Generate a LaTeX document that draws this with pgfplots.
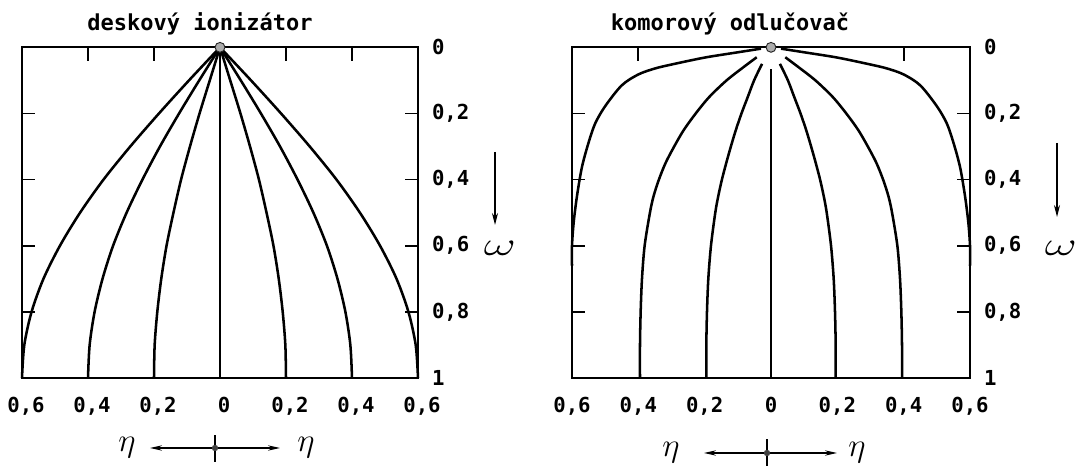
\documentclass[border=0pt]{standalone}
\usepackage{pgfplots}
\pgfplotsset{compat=1.18}
\usetikzlibrary{arrows.meta}
\usepackage{fontspec}
\setmainfont{DejaVu Sans Mono}
\tikzset{toptick/.style={line width=1.3pt}}
\begin{document}
\begin{tikzpicture}
\useasboundingbox (0pt,0pt) rectangle (812.25pt,352.5pt);
\pgfplotsset{
  panel/.style={
    anchor=south west,
    scale only axis,
    height=248pt,
    xmin=-0.6, xmax=0.6, ymin=0, ymax=1,
    y dir=reverse,
    clip=false,
    axis line style={line width=1.3pt},
    xtick={-0.6,-0.4,-0.2,0,0.2,0.4,0.6},
    xticklabels={{0,6},{0,4},{0,2},0,{0,2},{0,4},{0,6}},
    xtick pos=bottom,
    major x tick style={draw=none},
    xticklabel style={font=\bfseries\fontsize{15.5}{16}\selectfont, yshift=-11pt},
    ytick={0,0.2,0.4,0.6,0.8,1},
    yticklabels={0,{0,2},{0,4},{0,6},{0,8},1},
    ytick pos=both, yticklabel pos=right,
    tick align=inside,
    major tick length=9.5pt,
    major y tick style={line width=1.3pt, black},
    yticklabel style={font=\bfseries\fontsize{15.5}{16}\selectfont, xshift=7pt},
  },
  curve/.style={black, line width=1.9pt, smooth, no markers},
  topdot/.style={only marks, mark=*, mark size=3.7pt,
    mark options={fill=gray!65, draw=gray!30!black, line width=0.7pt}},
}

% ---------- deskový ionizátor ----------
\begin{axis}[panel, width=297pt, at={(16.5pt,69pt)},
  xticklabel style={xshift=3pt}]
\draw[toptick] (axis cs:-0.4,0) -- (axis cs:-0.4,0.04);
\draw[toptick] (axis cs:-0.2,0) -- (axis cs:-0.2,0.04);
\draw[toptick] (axis cs:0.2,0) -- (axis cs:0.2,0.04);
\draw[toptick] (axis cs:0.4,0) -- (axis cs:0.4,0.04);
\addplot[curve] coordinates {(0,0)(-0.094,0.1)(-0.185,0.2)(-0.272,0.3)(-0.353,0.4)(-0.424,0.5)(-0.485,0.6)(-0.535,0.7)(-0.571,0.8)(-0.593,0.9)(-0.6,1)};
\addplot[curve] coordinates {(0,0)(-0.063,0.1)(-0.124,0.2)(-0.182,0.3)(-0.235,0.4)(-0.283,0.5)(-0.324,0.6)(-0.356,0.7)(-0.380,0.8)(-0.395,0.9)(-0.4,1)};
\addplot[curve] coordinates {(0,0)(-0.031,0.1)(-0.062,0.2)(-0.091,0.3)(-0.118,0.4)(-0.141,0.5)(-0.162,0.6)(-0.178,0.7)(-0.190,0.8)(-0.198,0.9)(-0.2,1)};
\addplot[curve] coordinates {(0,0)(0,1)};
\addplot[curve] coordinates {(0,0)(0.031,0.1)(0.062,0.2)(0.091,0.3)(0.118,0.4)(0.141,0.5)(0.162,0.6)(0.178,0.7)(0.190,0.8)(0.198,0.9)(0.2,1)};
\addplot[curve] coordinates {(0,0)(0.063,0.1)(0.124,0.2)(0.182,0.3)(0.235,0.4)(0.283,0.5)(0.324,0.6)(0.356,0.7)(0.380,0.8)(0.395,0.9)(0.4,1)};
\addplot[curve] coordinates {(0,0)(0.094,0.1)(0.185,0.2)(0.272,0.3)(0.353,0.4)(0.424,0.5)(0.485,0.6)(0.535,0.7)(0.571,0.8)(0.593,0.9)(0.6,1)};
\addplot[topdot] coordinates {(0,0)};
\end{axis}

% ---------- komorový odlučovač ----------
\begin{axis}[panel, width=298.5pt, at={(429pt,69pt)}]
\draw[toptick] (axis cs:-0.4,0) -- (axis cs:-0.4,0.04);
\draw[toptick] (axis cs:0.4,0) -- (axis cs:0.4,0.04);
% outer lines
\addplot[curve] coordinates {(-0.03,0.004)(-0.1,0.015)(-0.2,0.031)(-0.3,0.052)(-0.35,0.064)(-0.4,0.082)(-0.45,0.115)(-0.5,0.178)(-0.53,0.23)(-0.55,0.288)(-0.57,0.362)(-0.585,0.45)(-0.595,0.53)(-0.6,0.6)(-0.6,0.66)};
\addplot[curve] coordinates {(0.03,0.004)(0.1,0.015)(0.2,0.031)(0.3,0.052)(0.35,0.064)(0.4,0.082)(0.45,0.115)(0.5,0.178)(0.53,0.23)(0.55,0.288)(0.57,0.362)(0.585,0.45)(0.595,0.53)(0.6,0.6)(0.6,0.66)};
% lines ending at 0,4
\addplot[curve] coordinates {(-0.043,0.03)(-0.083,0.06)(-0.134,0.1)(-0.186,0.15)(-0.227,0.2)(-0.263,0.25)(-0.292,0.3)(-0.318,0.35)(-0.338,0.4)(-0.354,0.45)(-0.365,0.5)(-0.381,0.6)(-0.389,0.7)(-0.393,0.8)(-0.395,0.9)(-0.395,1)};
\addplot[curve] coordinates {(0.043,0.03)(0.083,0.06)(0.134,0.1)(0.186,0.15)(0.227,0.2)(0.263,0.25)(0.292,0.3)(0.318,0.35)(0.338,0.4)(0.354,0.45)(0.365,0.5)(0.381,0.6)(0.389,0.7)(0.393,0.8)(0.395,0.9)(0.395,1)};
% lines ending at 0,2
\addplot[curve] coordinates {(-0.027,0.05)(-0.051,0.1)(-0.07,0.15)(-0.089,0.2)(-0.106,0.25)(-0.121,0.3)(-0.135,0.35)(-0.148,0.4)(-0.159,0.45)(-0.168,0.5)(-0.181,0.6)(-0.189,0.7)(-0.193,0.8)(-0.195,0.9)(-0.195,1)};
\addplot[curve] coordinates {(0.027,0.05)(0.051,0.1)(0.07,0.15)(0.089,0.2)(0.106,0.25)(0.121,0.3)(0.135,0.35)(0.148,0.4)(0.159,0.45)(0.168,0.5)(0.181,0.6)(0.189,0.7)(0.193,0.8)(0.195,0.9)(0.195,1)};
% centre line
\addplot[curve] coordinates {(0,0.067)(0,1)};
\addplot[topdot] coordinates {(0,0)};
\end{axis}

\begin{scope}[x=0.75pt,y=0.75pt]
% titles
\node[font=\bfseries\fontsize{16.5}{17}\selectfont] at (200,446) {deskový ionizátor};
\node[font=\bfseries\fontsize{16.5}{17}\selectfont] at (730,446) {komorový odlučovač};

% omega direction arrows
\draw[line width=1pt, -{Stealth[length=9pt,width=4.5pt]}] (495,318) -- (495,245);
\node[font=\fontsize{26}{26}\selectfont, xscale=1.5] at (500,222) {$\omega$};
\draw[line width=1pt, -{Stealth[length=9pt,width=4.5pt]}] (1057,327) -- (1057,253);
\node[font=\fontsize{26}{26}\selectfont, xscale=1.5] at (1061,222) {$\omega$};

% eta direction arrows
\draw[line width=0.9pt, -{Stealth[length=9pt,width=4pt]}] (215,22) -- (150,22);
\draw[line width=0.9pt, -{Stealth[length=9pt,width=4pt]}] (215,22) -- (280,22);
\draw[line width=0.9pt] (215,8) -- (215,35);
\fill[gray!50!black] (215,22) circle (3.2);
\node[font=\fontsize{28}{28}\selectfont] at (127,22) {$\eta$};
\node[font=\fontsize{28}{28}\selectfont] at (306,22) {$\eta$};

\draw[line width=0.9pt, -{Stealth[length=9pt,width=4pt]}] (767,17) -- (704,17);
\draw[line width=0.9pt, -{Stealth[length=9pt,width=4pt]}] (767,17) -- (837,17);
\draw[line width=0.9pt] (767,4) -- (767,31);
\fill[gray!50!black] (767,17) circle (3.2);
\node[font=\fontsize{28}{28}\selectfont] at (671,17) {$\eta$};
\node[font=\fontsize{28}{28}\selectfont] at (857,17) {$\eta$};
\end{scope}
\end{tikzpicture}
\end{document}
